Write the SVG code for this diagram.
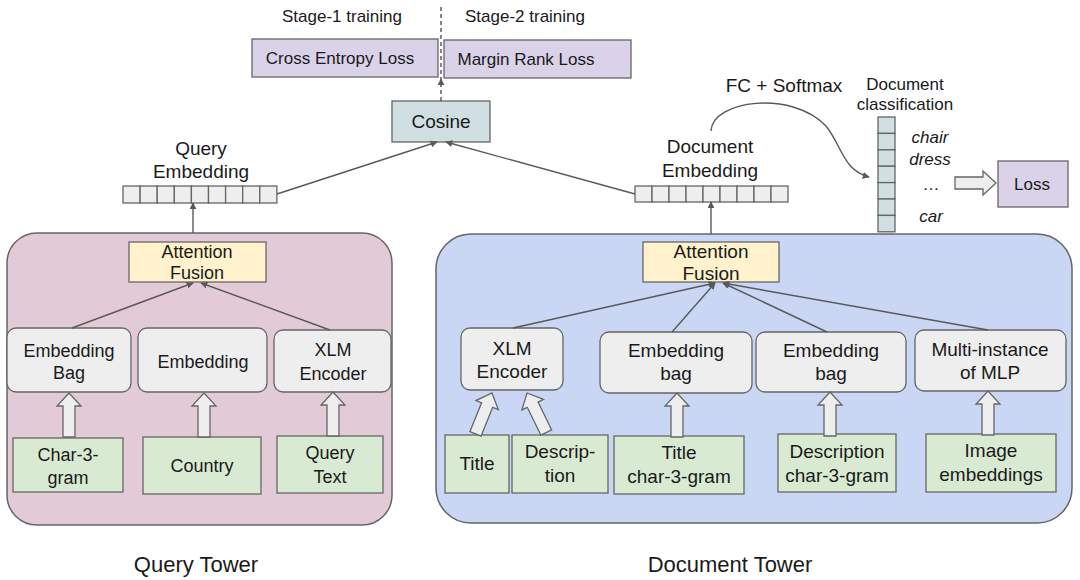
<svg xmlns="http://www.w3.org/2000/svg" xmlns:xlink="http://www.w3.org/1999/xlink" width="1080" height="580" viewBox="0 0 1080 580">
<style>
text{font-family:"Liberation Sans",Arial,sans-serif;fill:#1a1a1a;text-anchor:middle}
.t17{font-size:17px}.t18{font-size:18px}.t19{font-size:19px}.t22{font-size:22px}
.it{font-style:italic}
.tower{stroke:#666;stroke-width:1.5}
.gray{fill:#eeeeee;stroke:#666;stroke-width:1.3}
.green{fill:#d9ead3;stroke:#666;stroke-width:1.3}
.yellow{fill:#fff2cc;stroke:#666;stroke-width:1.3}
.purple{fill:#d9d2e9;stroke:#666;stroke-width:1.3}
.cyan{fill:#d0dfe2;stroke:#666;stroke-width:1.3}
.cell{fill:#eeeeee;stroke:#666;stroke-width:1.3}
.vcell{fill:#d0dfe2;stroke:#666;stroke-width:1.3}
.barrow{fill:#eeeeee;stroke:#666;stroke-width:1.3}
.conn{fill:none;stroke:#595959;stroke-width:1.4}
.dash{fill:none;stroke:#444;stroke-width:1.3;stroke-dasharray:4,3}
</style>
<defs>
<marker id="ah" viewBox="0 0 10 10" refX="9" refY="5" markerWidth="7" markerHeight="7" orient="auto" markerUnits="userSpaceOnUse">
<path d="M0,0 L10,5 L0,10 Z" fill="#595959"/>
</marker>
<path id="ba" d="M-6,44 L-6,13 L-12,13 L0,0 L12,13 L6,13 L6,44 Z"/>
</defs>

<!-- Towers -->
<g id="query-tower">
<rect class="tower" x="7" y="233" width="385" height="292" rx="30" fill="#e2cbd7"/>
<text class="t22" x="196" y="572">Query Tower</text>
</g>
<g id="document-tower">
<rect class="tower" x="436" y="234" width="636" height="289" rx="35" fill="#c9d7f4"/>
<text class="t22" x="730" y="572">Document Tower</text>
</g>

<!-- Top -->
<g id="stage-labels">
<text class="t17" x="342" y="22">Stage-1 training</text>
<text class="t17" x="525" y="22">Stage-2 training</text>
</g>
<g id="cross-entropy-loss">
<rect class="purple" x="252" y="39" width="186" height="38"/>
<text class="t17" x="340" y="64">Cross Entropy Loss</text>
</g>
<g id="margin-rank-loss">
<rect class="purple" x="444" y="40" width="187" height="38"/>
<text class="t17" x="526" y="65">Margin Rank Loss</text>
</g>
<g id="cosine">
<rect class="cyan" x="392" y="101" width="98" height="41"/>
<text class="t19" x="441" y="128">Cosine</text>
</g>

<g id="query-embedding">
<text class="t19" x="201" y="155">Query</text>
<text class="t19" x="201" y="178">Embedding</text>
<rect class="cell" x="123" y="186" width="17.1" height="17"/>
<rect class="cell" x="140.1" y="186" width="17.1" height="17"/>
<rect class="cell" x="157.2" y="186" width="17.1" height="17"/>
<rect class="cell" x="174.3" y="186" width="17.1" height="17"/>
<rect class="cell" x="191.4" y="186" width="17.1" height="17"/>
<rect class="cell" x="208.5" y="186" width="17.1" height="17"/>
<rect class="cell" x="225.6" y="186" width="17.1" height="17"/>
<rect class="cell" x="242.7" y="186" width="17.1" height="17"/>
<rect class="cell" x="259.8" y="186" width="17.1" height="17"/>
</g>

<g id="document-embedding">
<text class="t19" x="710" y="153">Document</text>
<text class="t19" x="710" y="177">Embedding</text>
<rect class="cell" x="635" y="186" width="17" height="16"/>
<rect class="cell" x="652" y="186" width="17" height="16"/>
<rect class="cell" x="669" y="186" width="17" height="16"/>
<rect class="cell" x="686" y="186" width="17" height="16"/>
<rect class="cell" x="703" y="186" width="17" height="16"/>
<rect class="cell" x="720" y="186" width="17" height="16"/>
<rect class="cell" x="737" y="186" width="17" height="16"/>
<rect class="cell" x="754" y="186" width="17" height="16"/>
<rect class="cell" x="771" y="186" width="17" height="16"/>
</g>

<g id="fc-softmax-label">
<text class="t19" x="784" y="92">FC + Softmax</text>
</g>

<g id="document-classification">
<text class="t17" x="905" y="90">Document</text>
<text class="t17" x="905" y="110">classification</text>
<rect class="vcell" x="878" y="117" width="17" height="16.4"/>
<rect class="vcell" x="878" y="133.4" width="17" height="16.4"/>
<rect class="vcell" x="878" y="149.8" width="17" height="16.4"/>
<rect class="vcell" x="878" y="166.2" width="17" height="16.4"/>
<rect class="vcell" x="878" y="182.6" width="17" height="16.4"/>
<rect class="vcell" x="878" y="199" width="17" height="16.4"/>
<rect class="vcell" x="878" y="215.4" width="17" height="16.4"/>
<text class="t17 it" x="930" y="143">chair</text>
<text class="t17 it" x="930" y="165">dress</text>
<text class="t17" x="931" y="190">…</text>
<text class="t17 it" x="931" y="222">car</text>
</g>

<g id="loss">
<rect class="purple" x="998" y="161" width="70" height="46"/>
<text class="t17" x="1032" y="190">Loss</text>
</g>

<!-- Query tower nodes -->
<g id="q-attention-fusion">
<rect class="yellow" x="129" y="242" width="137" height="40"/>
<text class="t18" x="197" y="258">Attention</text>
<text class="t18" x="197" y="279">Fusion</text>
</g>
<g id="q-embedding-bag">
<rect class="gray" x="7" y="328" width="124" height="64" rx="9"/>
<text class="t18" x="69" y="357">Embedding</text>
<text class="t18" x="69" y="379">Bag</text>
</g>
<g id="q-embedding">
<rect class="gray" x="138" y="328" width="129" height="64" rx="9"/>
<text class="t18" x="203" y="368">Embedding</text>
</g>
<g id="q-xlm-encoder">
<rect class="gray" x="274" y="330" width="117" height="62" rx="9"/>
<text class="t18" x="333" y="356">XLM</text>
<text class="t18" x="333" y="380">Encoder</text>
</g>
<g id="q-char-3-gram">
<rect class="green" x="13" y="438" width="110" height="54"/>
<text class="t18" x="68" y="461">Char-3-</text>
<text class="t18" x="68" y="484">gram</text>
</g>
<g id="q-country">
<rect class="green" x="143" y="437" width="118" height="57"/>
<text class="t18" x="202" y="472">Country</text>
</g>
<g id="q-query-text">
<rect class="green" x="277" y="436" width="106" height="57"/>
<text class="t18" x="330" y="459">Query</text>
<text class="t18" x="330" y="483">Text</text>
</g>

<!-- Document tower nodes -->
<g id="d-attention-fusion">
<rect class="yellow" x="643" y="242" width="136" height="40"/>
<text class="t19" x="711" y="258">Attention</text>
<text class="t19" x="711" y="280">Fusion</text>
</g>
<g id="d-xlm-encoder">
<rect class="gray" x="461" y="328" width="102" height="62" rx="9"/>
<text class="t19" x="512" y="355">XLM</text>
<text class="t19" x="512" y="378">Encoder</text>
</g>
<g id="d-embedding-bag-1">
<rect class="gray" x="600" y="332" width="152" height="61" rx="9"/>
<text class="t19" x="676" y="357">Embedding</text>
<text class="t19" x="676" y="380">bag</text>
</g>
<g id="d-embedding-bag-2">
<rect class="gray" x="756" y="332" width="150" height="60" rx="9"/>
<text class="t19" x="831" y="357">Embedding</text>
<text class="t19" x="831" y="380">bag</text>
</g>
<g id="d-multi-instance-mlp">
<rect class="gray" x="915" y="330" width="151" height="61" rx="9"/>
<text class="t19" x="990" y="356">Multi-instance</text>
<text class="t19" x="990" y="379">of MLP</text>
</g>
<g id="d-title">
<rect class="green" x="445" y="435" width="64" height="58"/>
<text class="t19" x="477" y="470">Title</text>
</g>
<g id="d-description">
<rect class="green" x="512" y="435" width="96" height="58"/>
<text class="t19" x="560" y="458">Descrip-</text>
<text class="t19" x="560" y="482">tion</text>
</g>
<g id="d-title-char-3-gram">
<rect class="green" x="614" y="436" width="130" height="58"/>
<text class="t19" x="679" y="459">Title</text>
<text class="t19" x="679" y="483">char-3-gram</text>
</g>
<g id="d-description-char-3-gram">
<rect class="green" x="778" y="434" width="118" height="58"/>
<text class="t19" x="837" y="458">Description</text>
<text class="t19" x="837" y="482">char-3-gram</text>
</g>
<g id="d-image-embeddings">
<rect class="green" x="926" y="434" width="130" height="58"/>
<text class="t19" x="991" y="457">Image</text>
<text class="t19" x="991" y="481">embeddings</text>
</g>

<!-- Connectors -->
<g id="connectors">
<line class="dash" x1="441" y1="7" x2="441" y2="79"/>
<line class="dash" x1="441" y1="101" x2="441" y2="79" marker-end="url(#ah)"/>
<line class="conn" x1="277" y1="194" x2="437" y2="142" marker-end="url(#ah)"/>
<line class="conn" x1="635" y1="194" x2="446" y2="142" marker-end="url(#ah)"/>
<line class="conn" x1="193" y1="233" x2="193" y2="203" marker-end="url(#ah)"/>
<line class="conn" x1="711" y1="234" x2="711" y2="202" marker-end="url(#ah)"/>
<path class="conn" d="M711,131 C712,100 792,90 826,126 C842,146 843,170 869,177" marker-end="url(#ah)"/>
<line class="conn" x1="72" y1="328" x2="193" y2="283" marker-end="url(#ah)"/>
<line class="conn" x1="330" y1="330" x2="201" y2="283" marker-end="url(#ah)"/>
<line class="conn" x1="513" y1="328" x2="715" y2="283" marker-end="url(#ah)"/>
<line class="conn" x1="672" y1="332" x2="715" y2="283" marker-end="url(#ah)"/>
<line class="conn" x1="827" y1="332" x2="723" y2="283" marker-end="url(#ah)"/>
<line class="conn" x1="988" y1="330" x2="723" y2="283" marker-end="url(#ah)"/>
<path class="barrow" d="M955,177 L983,177 L983,171 L996,183 L983,195 L983,189 L955,189 Z"/>
<use class="barrow" href="#ba" transform="translate(69,393)"/>
<use class="barrow" href="#ba" transform="translate(204,393)"/>
<use class="barrow" href="#ba" transform="translate(333,392)"/>
<use class="barrow" href="#ba" transform="translate(492,393) rotate(22)"/>
<use class="barrow" href="#ba" transform="translate(527,393) rotate(-26)"/>
<use class="barrow" href="#ba" transform="translate(677,393)"/>
<use class="barrow" href="#ba" transform="translate(830,392)"/>
<use class="barrow" href="#ba" transform="translate(988,391)"/>
</g>
</svg>
